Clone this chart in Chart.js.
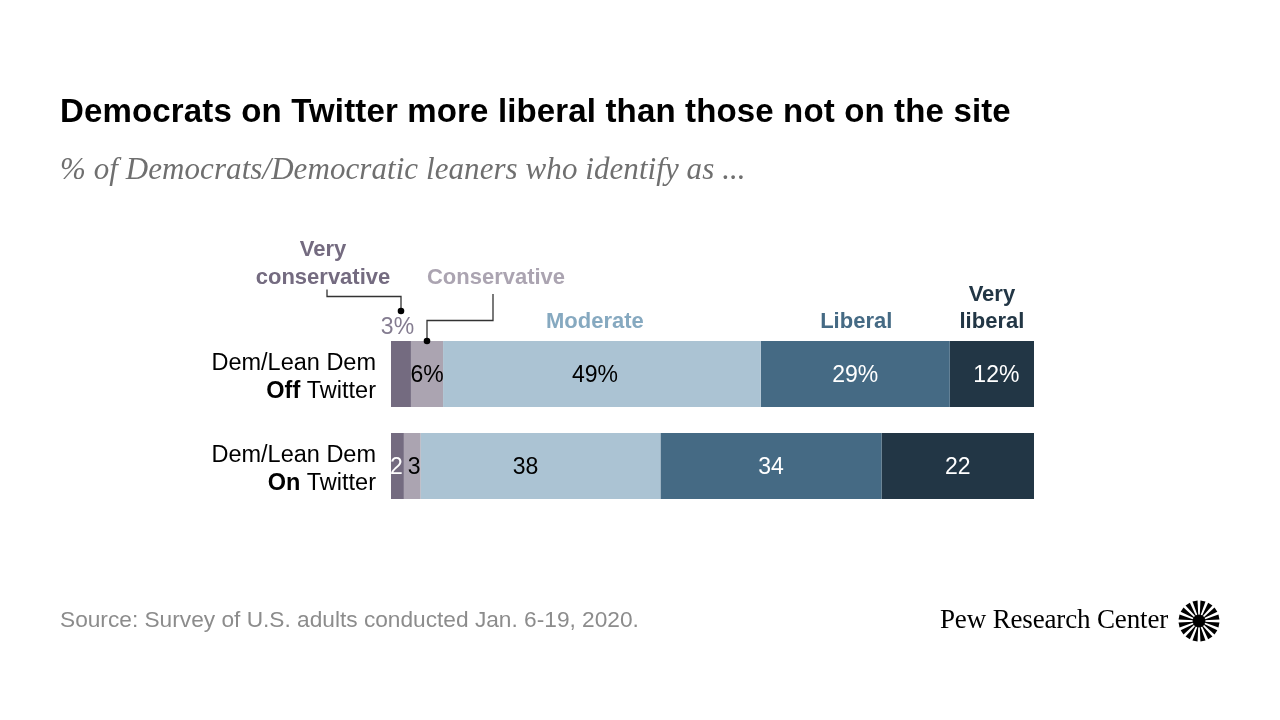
<!DOCTYPE html>
<html><head><meta charset="utf-8">
<script src="https://cdn.jsdelivr.net/npm/chart.js@4"></script>
<style>
html,body{margin:0;padding:0;background:#fff;width:1280px;height:720px;overflow:hidden}
#wrap{position:relative;width:1280px;height:720px}
#c{position:absolute;left:0;top:0}
.t{position:absolute;white-space:nowrap}
#title{left:60px;top:92px;font:bold 33px "Liberation Sans";color:#000;letter-spacing:.15px}
#sub{left:60px;top:151px;font:italic 31px "Liberation Serif";color:#6f6f6f;letter-spacing:.07px}
#src{left:60px;top:606px;font:22.7px "Liberation Sans";color:#8c8c8c}
#pew{left:940px;top:604px;font:27px "Liberation Serif";color:#000;letter-spacing:-.15px}
#logo{position:absolute;left:1178px;top:600px}
</style></head><body>
<div id="wrap">
<canvas id="c" width="1280" height="720" style="width:1280px;height:720px"></canvas>
<div class="t" id="title">Democrats on Twitter more liberal than those not on the site</div>
<div class="t" id="sub">% of Democrats/Democratic leaners who identify as ...</div>
<div class="t" id="src">Source: Survey of U.S. adults conducted Jan. 6-19, 2020.</div>
<div class="t" id="pew">Pew Research Center</div>
<svg id="logo" width="42" height="42" viewBox="-21 -21 42 42"></svg>
</div>
<script>
const categories = ["Dem/Lean Dem Off Twitter", "Dem/Lean Dem On Twitter"];
const seriesNames = ["Very conservative", "Conservative", "Moderate", "Liberal", "Very liberal"];
const veryConservative = [3.1, 2.0];
const conservative = [5.0, 2.6];
const moderate = [49.4, 37.3];
const liberal = [29.4, 34.4];
const veryLiberal = [13.1, 23.7];
const printedOff = ["3%", "6%", "49%", "29%", "12%"];
const printedOn = ["2", "3", "38", "34", "22"];
const colors = ["#746b80", "#aba4b1", "#abc3d3", "#456a84", "#223645"];
const headColors = ["#746b80", "#aba4b1", "#86a9c0", "#456a84", "#223645"];
const labelColors = ["#fff", "#000", "#000", "#fff", "#fff"];
const rowLabels = [["Off", " Twitter"], ["On", " Twitter"]];

const all = [veryConservative, conservative, moderate, liberal, veryLiberal];
const FONT = '"Liberation Sans"';
const labelNudge = [[0, 0, -7, 0, 4.5], [-1, 2, -15, 0, 0]];

const overlay = {
  id: "overlay",
  afterDatasetsDraw(chart) {
    const ctx = chart.ctx;
    const bar = (d, i) => chart.getDatasetMeta(d).data[i];
    ctx.save();
    // row labels
    ctx.textBaseline = "middle";
    ctx.fillStyle = "#000";
    categories.forEach((cat, i) => {
      const y = bar(0, i).y, right = chart.chartArea.left - 15;
      ctx.textAlign = "right";
      ctx.font = "23.5px " + FONT;
      ctx.fillText("Dem/Lean Dem", right, y - 10);
      const rest = rowLabels[i][1];
      ctx.fillText(rest, right, y + 18);
      const w = ctx.measureText(rest).width;
      ctx.font = "bold 23.5px " + FONT;
      ctx.fillText(rowLabels[i][0], right - w, y + 18);
    });
    // value labels
    ctx.font = "23px " + FONT;
    ctx.textAlign = "center";
    [printedOff, printedOn].forEach((arr, i) => {
      arr.forEach((txt, d) => {
        if (i === 0 && d === 0) return;
        const b = bar(d, i), cx = (b.x + b.base) / 2 + labelNudge[i][d];
        ctx.fillStyle = labelColors[d];
        ctx.fillText(txt, cx, b.y + 2);
      });
    });
    const top = bar(0, 0).y - bar(0, 0).height / 2;
    const b0 = bar(0, 0);
    ctx.fillStyle = "#847c90";
    ctx.fillText(printedOff[0], (b0.x + b0.base) / 2 - 3.5, top - 13);
    // series heads
    ctx.font = "bold 22px " + FONT;
    const headY = top - 19;
    ctx.fillStyle = headColors[0];
    ctx.fillText("Very", 323, top - 91);
    ctx.fillText("conservative", 323, top - 63);
    ctx.fillStyle = headColors[1];
    ctx.fillText("Conservative", 496, top - 63);
    [2, 3].forEach(d => {
      const b = bar(d, 0);
      ctx.fillStyle = headColors[d];
      ctx.fillText(seriesNames[d], (b.x + b.base) / 2 + (d === 3 ? 1 : -7), headY);
    });
    const b4 = bar(4, 0);
    ctx.fillStyle = headColors[4];
    ctx.fillText("Very", (b4.x + b4.base) / 2, top - 46);
    ctx.fillText("liberal", (b4.x + b4.base) / 2, headY);
    // leader lines
    ctx.strokeStyle = "#333";
    ctx.lineWidth = 1.3;
    ctx.beginPath();
    ctx.moveTo(327, top - 51.5); ctx.lineTo(327, top - 44.5); ctx.lineTo(401, top - 44.5); ctx.lineTo(401, top - 30);
    ctx.moveTo(493, top - 47); ctx.lineTo(493, top - 20.5); ctx.lineTo(427, top - 20.5); ctx.lineTo(427, top);
    ctx.stroke();
    ctx.fillStyle = "#000";
    [[401, top - 30], [427, top]].forEach(p => {
      ctx.beginPath(); ctx.arc(p[0], p[1], 3.3, 0, Math.PI * 2); ctx.fill();
    });
    ctx.restore();
  }
};

new Chart(document.getElementById("c"), {
  type: "bar",
  data: {
    labels: categories,
    datasets: all.map((v, i) => ({
      label: seriesNames[i], data: v, backgroundColor: colors[i], borderWidth: 0,
      categoryPercentage: 1, barPercentage: 66 / 92
    }))
  },
  options: {
    indexAxis: "y", responsive: false, animation: false,
    devicePixelRatio: 1,
    layout: { padding: { left: 391, right: 246, top: 328, bottom: 208 } },
    plugins: { legend: { display: false }, tooltip: { enabled: false }, title: { display: false } },
    scales: {
      x: { stacked: true, min: 0, max: 100, display: false },
      y: { stacked: true, display: false }
    }
  },
  plugins: [overlay]
});

// Pew sunburst mark: wedge spokes around a solid hub
const svg = document.getElementById("logo");
let s = '<circle r="6.5" fill="#000"/>';
const n = 16;
for (let k = 0; k < n; k++) {
  const a = (k + 0.5) * 2 * Math.PI / n, h = 0.125;
  const p = (r, t) => `${(r * Math.cos(t)).toFixed(2)},${(r * Math.sin(t)).toFixed(2)}`;
  s += `<polygon points="${p(5, a - 0.05)} ${p(20.5, a - h)} ${p(20.5, a + h)} ${p(5, a + 0.05)}" fill="#000"/>`;
}
svg.innerHTML = s;
</script>
</body></html>
